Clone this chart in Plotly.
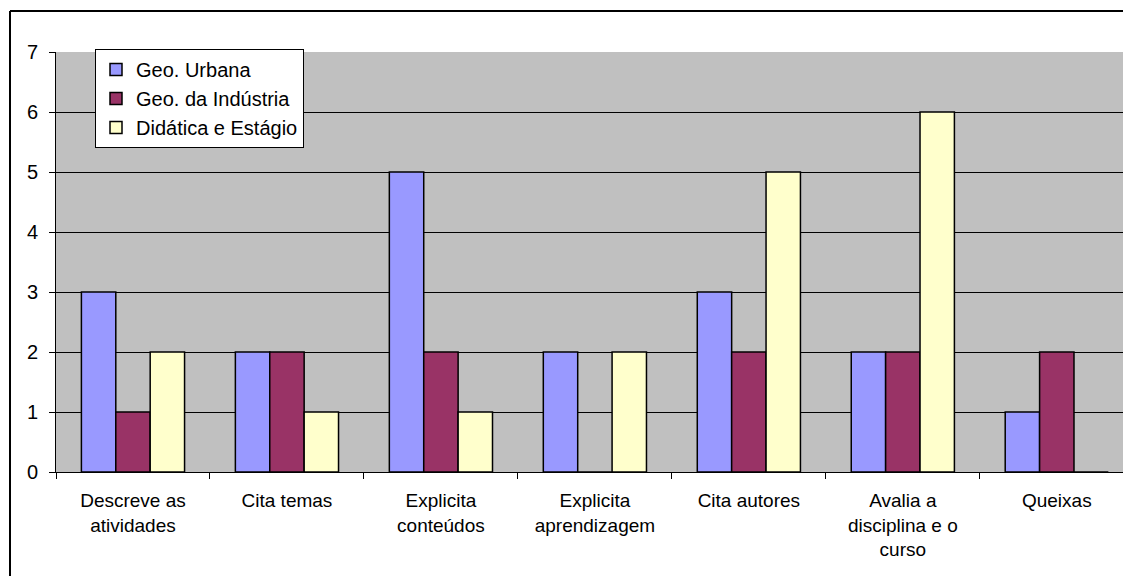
import plotly.graph_objects as go

categories = ["Descreve as<br>atividades", "Cita temas", "Explicita<br>conteúdos",
              "Explicita<br>aprendizagem", "Cita autores",
              "Avalia a<br>disciplina e o<br>curso", "Queixas"]
geo_urbana = [3, 2, 5, 2, 3, 2, 1]
geo_industria = [1, 2, 2, 0, 2, 2, 2]
didatica_estagio = [2, 1, 1, 2, 5, 6, 0]
y_ticks = [0, 1, 2, 3, 4, 5, 6, 7]

series = [
    ("Geo. Urbana", geo_urbana, "#9999FF"),
    ("Geo. da Indústria", geo_industria, "#993366"),
    ("Didática e Estágio", didatica_estagio, "#FFFFCC"),
]

fig = go.Figure()
for i, (name, vals, color) in enumerate(series):
    fig.add_trace(go.Bar(
        x=categories, y=vals, name=name, legendgroup=str(i),
        marker=dict(color=color, line=dict(color="black", width=1.5)),
    ))

FONT = "Liberation Sans, Arial, sans-serif"
W, H = 1123, 576
L, T, B = 56, 52, 104
pw = W - L
ph = H - T - B

def px_x(x):
    return (x - L) / pw

def px_y(y):
    return (H - B - y) / ph

fig.update_layout(
    width=W, height=H,
    margin=dict(l=L, r=0, t=T, b=B),
    paper_bgcolor="white", plot_bgcolor="#C0C0C0",
    barmode="group", bargap=0.33, bargroupgap=0,
    font=dict(family=FONT, color="black"),
    legend=dict(
        x=px_x(95), y=px_y(49), xanchor="left", yanchor="top",
        bgcolor="white", bordercolor="black", borderwidth=1,
        font=dict(size=20, family=FONT, color="black"),
        tracegroupgap=0,
    ),
    showlegend=True,
    shapes=[
        dict(type="line", xref="paper", yref="paper",
             x0=px_x(10), x1=px_x(10), y0=px_y(H + 20), y1=px_y(11),
             line=dict(color="black", width=2)),
        dict(type="line", xref="paper", yref="paper",
             x0=px_x(10), x1=px_x(W + 20), y0=px_y(11), y1=px_y(11),
             line=dict(color="black", width=2)),
    ],
)
fig.update_xaxes(
    range=[-0.5, 6.43], showline=True, linecolor="black", linewidth=1,
    ticks="outside", tickson="boundaries", ticklen=6, tickcolor="black",
    tickfont=dict(size=19, family=FONT, color="black"), showgrid=False,
    ticklabelstandoff=11,
)
fig.update_yaxes(
    range=[0, 7], tickvals=y_ticks, showline=True, linecolor="black", linewidth=1,
    ticks="outside", ticklen=6, tickcolor="black",
    tickfont=dict(size=20, family=FONT, color="black"),
    showgrid=True, gridcolor="black", gridwidth=1, zeroline=False,
    ticklabelstandoff=7,
)
fig.write_html("out.html", config={"displayModeBar": False},
               post_script="document.body.style.margin='0';document.body.style.overflow='hidden';")
